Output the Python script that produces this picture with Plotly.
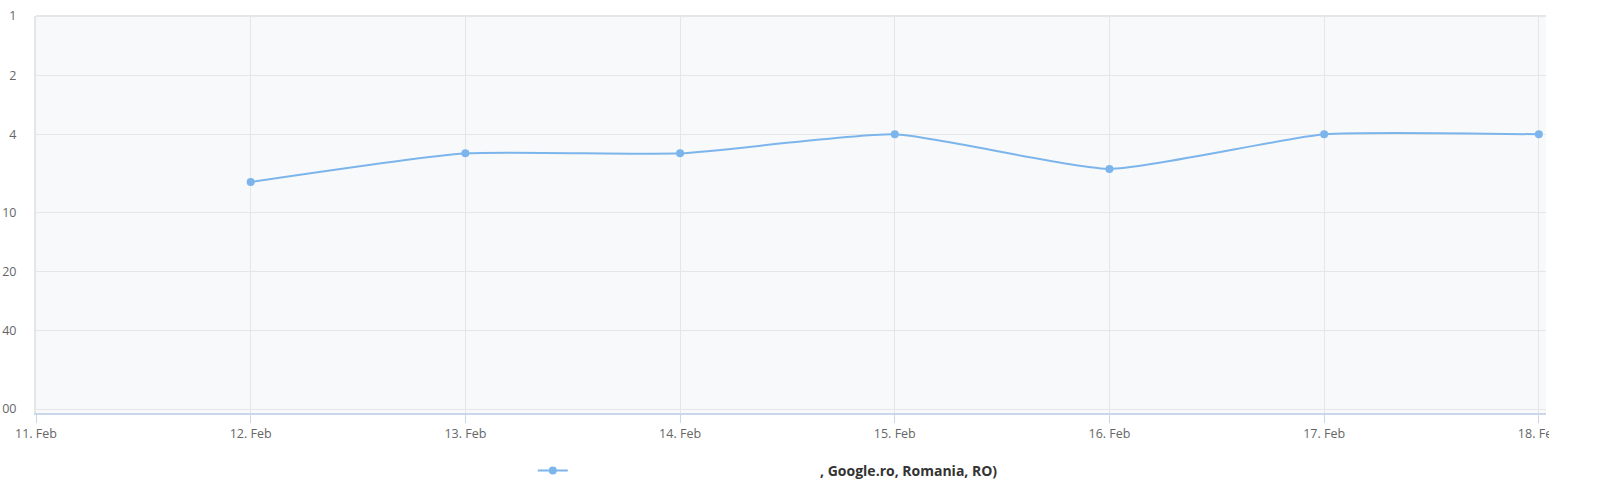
import plotly.graph_objects as go

# data (rank positions, lower is better)
dates = ["2017-02-12", "2017-02-13", "2017-02-14", "2017-02-15",
         "2017-02-16", "2017-02-17", "2017-02-18"]
positions = [7, 5, 5, 4, 6, 4, 4]
y_ticks = [1, 2, 4, 10, 20, 40, 100]
series_name = "<b>" + "\u00a0" * 68 + ", Google.ro, Romania, RO)</b>"

LINE = "#7cb5ec"
GRID = "#e6e6e6"
TEXT = "#666666"

fig = go.Figure()
fig.add_trace(go.Scatter(
    x=dates, y=positions, name=series_name,
    mode="lines+markers",
    line=dict(color=LINE, width=2, shape="spline", smoothing=0.5),
    marker=dict(color=LINE, size=8),
    showlegend=True,
))

fig.update_layout(
    template="none",
    width=1597, height=488,
    margin=dict(l=36, r=51, t=16, b=75, autoexpand=False),
    paper_bgcolor="white",
    plot_bgcolor="#f8f9fa",
    font=dict(family="Open Sans", color=TEXT, size=12),
    legend=dict(
        orientation="h", x=0.329, xanchor="left", y=-0.146, yanchor="middle",
        font=dict(size=14, color="#333333", family="Open Sans"),
        itemwidth=30,
    ),
)

fig.update_xaxes(
    type="date",
    range=["2017-02-11", "2017-02-18 00:48"],
    tickvals=["2017-02-11"] + dates,
    tickformat="%-d. %b",
    showgrid=True, gridcolor=GRID, gridwidth=1,
    showline=True, linecolor="#ccd6eb", linewidth=2,
    ticks="outside", ticklen=8, tickcolor="#ccd6eb",
    tickfont=dict(size=12.5, color=TEXT),
    zeroline=False, automargin=False,
)

fig.update_yaxes(
    type="log",
    range=[2.02, 0],
    tickvals=y_ticks,
    ticktext=[str(v) for v in y_ticks],
    showgrid=True, gridcolor=GRID, gridwidth=1,
    showline=True, linecolor=GRID, linewidth=2,
    ticks="", ticklabelstandoff=15,
    tickfont=dict(size=12.5, color=TEXT),
    zeroline=False, automargin=False,
)

# top border of the plot frame
fig.add_shape(type="line", xref="paper", yref="paper", x0=0, x1=1, y0=1, y1=1,
              line=dict(color=GRID, width=2), layer="above")
# clip the last x label at the plot edge like the original
fig.add_shape(type="rect", xref="paper", yref="paper", x0=1.002, x1=1.04, y0=-0.12, y1=-0.012,
              fillcolor="white", line=dict(width=0), layer="above")

# drop the default page margin so the chart sits flush with the window
fig.write_html("out.html", config={"displayModeBar": False},
               post_script="document.body.style.margin = '0';")
